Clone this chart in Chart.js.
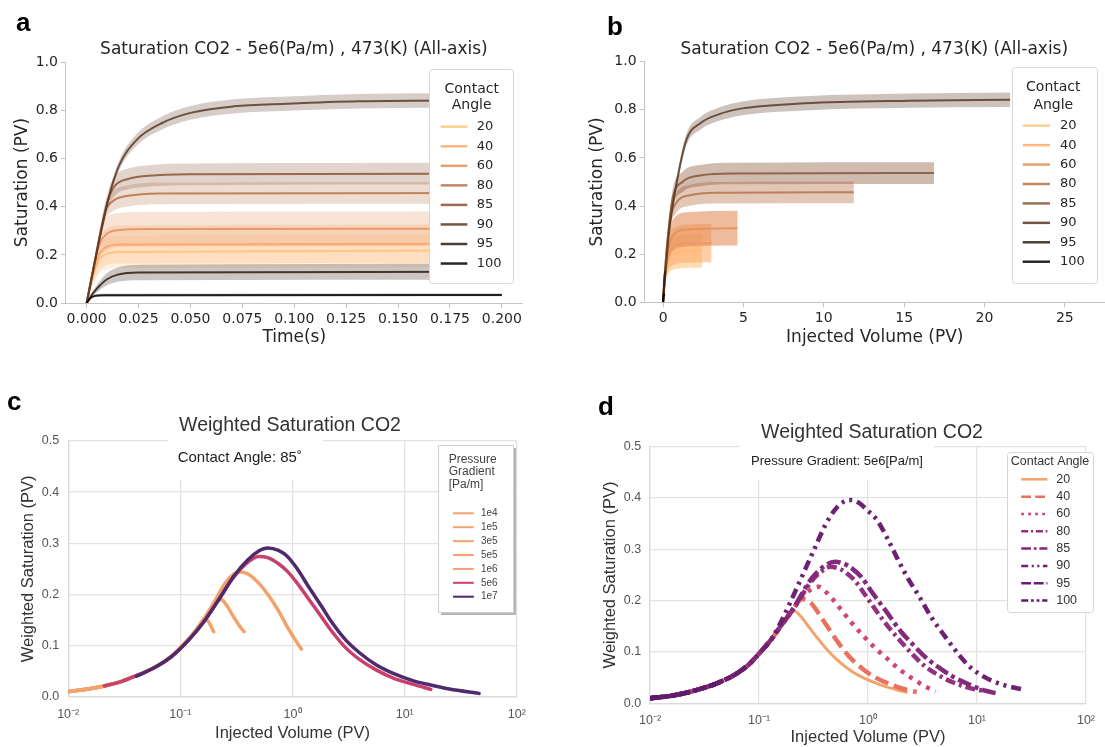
<!DOCTYPE html>
<html>
<head>
<meta charset="utf-8">
<script src="https://cdn.jsdelivr.net/npm/chart.js@4.4.1/dist/chart.umd.min.js"></script>
<style>
  html, body { margin: 0; padding: 0; background: #fff; }
  #wrap { position: relative; width: 1105px; height: 747px; overflow: hidden; }
  #wrap canvas { position: absolute; left: 0; top: 0; }
</style>
</head>
<body>
<div id="wrap">
  <canvas id="chart-a" width="1105" height="747"></canvas>
  <canvas id="chart-b" width="1105" height="747"></canvas>
  <canvas id="chart-c" width="1105" height="747"></canvas>
  <canvas id="chart-d" width="1105" height="747"></canvas>
</div>
<script>
// ---- shared categories / colours ----
const angles = ['20', '40', '60', '80', '85', '90', '95', '100'];
const copper = ['#ffc77f', '#ffab6d', '#e48e5b', '#b67248', '#895536', '#5b3924', '#2e1c12', '#000000'];
const satErr = [0.07, 0.08, 0.072, 0.045, 0.045, 0.03, 0.033, 0.006];
const bandAlphaA = [0.25, 0.25, 0.25, 0.25, 0.25, 0.25, 0.25, 0.25];
const bandAlphaB = [0.6, 0.6, 0.6, 0.4, 0.4, 0.3, 0.3, 0.3];

// ---- panel a : saturation vs time ----
const timeA = [
  [0, 0.003, 0.006, 0.01, 0.016, 0.1, 0.2],
  [0, 0.003, 0.006, 0.01, 0.016, 0.2],
  [0, 0.003, 0.006, 0.01, 0.016, 0.03, 0.2],
  [0, 0.0035, 0.009, 0.013, 0.02, 0.035, 0.2],
  [0, 0.0035, 0.0104, 0.014, 0.02, 0.03, 0.05, 0.2],
  [0, 0.0035, 0.0104, 0.0155, 0.0242, 0.0363, 0.05, 0.0708, 0.0967, 0.131, 0.2],
  [0, 0.003, 0.006, 0.01, 0.015, 0.025, 0.2],
  [0, 0.002, 0.004, 0.008, 0.2]
];
const satA = [
  [0, 0.11, 0.18, 0.205, 0.212, 0.215, 0.22],
  [0, 0.12, 0.2, 0.235, 0.243, 0.246],
  [0, 0.13, 0.24, 0.29, 0.303, 0.307, 0.308],
  [0, 0.153, 0.38, 0.425, 0.445, 0.455, 0.457],
  [0, 0.153, 0.43, 0.49, 0.515, 0.528, 0.534, 0.537],
  [0, 0.153, 0.43, 0.568, 0.678, 0.747, 0.789, 0.816, 0.827, 0.837, 0.841],
  [0, 0.04, 0.07, 0.1, 0.118, 0.127, 0.13],
  [0, 0.022, 0.03, 0.033, 0.034]
];
const timeTicks = [0, 0.025, 0.05, 0.075, 0.1, 0.125, 0.15, 0.175, 0.2];
const satTicks = [0, 0.2, 0.4, 0.6, 0.8, 1.0];

// ---- panel b : saturation vs injected volume ----
const pvB = [
  [0, 0.1, 0.3, 0.8, 1.3, 2.43],
  [0, 0.12, 0.35, 0.8, 1.5, 3.02],
  [0, 0.15, 0.4, 0.8, 1.5, 4.64],
  [0, 0.2, 0.5, 0.8, 1.67, 3.4, 11.87],
  [0, 0.2, 0.58, 1.24, 2.3, 4.45, 16.86],
  [0, 0.37, 0.8, 1.45, 2.32, 3.41, 4.93, 8.83, 15.3, 21.6],
  [0, 0.03, 0.06, 0.1, 0.14],
  [0, 0.02, 0.05, 0.1]
];
const satB = [
  [0, 0.1, 0.17, 0.205, 0.212, 0.215],
  [0, 0.11, 0.2, 0.235, 0.243, 0.246],
  [0, 0.13, 0.24, 0.29, 0.303, 0.308],
  [0, 0.2, 0.36, 0.412, 0.445, 0.455, 0.457],
  [0, 0.2, 0.426, 0.502, 0.527, 0.535, 0.537],
  [0, 0.29, 0.48, 0.675, 0.744, 0.78, 0.806, 0.827, 0.838, 0.842],
  [0, 0.04, 0.08, 0.115, 0.13],
  [0, 0.022, 0.03, 0.034]
];
const pvTicks = [0, 5, 10, 15, 20, 25];

// ---- panel c : weighted saturation, contact angle 85 ----
const gradients = ['1e4', '1e5', '3e5', '5e5', '1e6', '5e6', '1e7'];
const colorsC = ['#f4a26c', '#f4a26c', '#f4a26c', '#f4a26c', '#f4a26c', '#c8416d', '#4e2a6e'];
const pvC = [
  [0.01, 0.015, 0.021],
  [0.01, 0.015, 0.021, 0.03, 0.0405, 0.06, 0.085, 0.12],
  [0.01, 0.015, 0.021, 0.03, 0.0405, 0.06, 0.085, 0.12, 0.14, 0.165, 0.18, 0.198],
  [0.01, 0.015, 0.021, 0.03, 0.0405, 0.06, 0.085, 0.12, 0.16, 0.2, 0.23, 0.26, 0.3, 0.34, 0.37],
  [0.01, 0.015, 0.021, 0.03, 0.0405, 0.06, 0.085, 0.12, 0.16, 0.2, 0.25, 0.3, 0.343, 0.4, 0.5, 0.62, 0.75, 0.9, 1.05, 1.2],
  [0.021, 0.03, 0.0405, 0.06, 0.085, 0.12, 0.16, 0.22, 0.3, 0.4, 0.5, 0.6, 0.75, 0.9, 1.1, 1.4, 1.8, 2.2, 3, 4, 5.5, 8, 12, 17.1],
  [0.0405, 0.06, 0.085, 0.12, 0.16, 0.22, 0.3, 0.4, 0.5, 0.6, 0.75, 0.9, 1.1, 1.4, 1.8, 2.2, 3, 4, 5.5, 8, 12, 17, 25, 46]
];
const wsC = [
  [0.0098, 0.015, 0.021],
  [0.0098, 0.015, 0.021, 0.03, 0.041, 0.058, 0.081, 0.114],
  [0.0098, 0.015, 0.021, 0.03, 0.041, 0.058, 0.081, 0.114, 0.132, 0.152, 0.145, 0.127],
  [0.0098, 0.015, 0.021, 0.03, 0.041, 0.058, 0.081, 0.114, 0.15, 0.182, 0.19, 0.178, 0.155, 0.137, 0.127],
  [0.0098, 0.015, 0.021, 0.03, 0.041, 0.058, 0.081, 0.114, 0.15, 0.185, 0.222, 0.24, 0.244, 0.24, 0.222, 0.196, 0.168, 0.136, 0.112, 0.093],
  [0.021, 0.03, 0.041, 0.058, 0.08, 0.112, 0.145, 0.19, 0.234, 0.263, 0.274, 0.272, 0.26, 0.245, 0.222, 0.19, 0.157, 0.13, 0.095, 0.072, 0.053, 0.036, 0.024, 0.0143],
  [0.04, 0.058, 0.08, 0.112, 0.145, 0.19, 0.236, 0.268, 0.285, 0.291, 0.286, 0.274, 0.25, 0.214, 0.178, 0.148, 0.11, 0.085, 0.063, 0.045, 0.031, 0.023, 0.015, 0.0065]
];

// ---- panel d : weighted saturation, pressure gradient 5e6 ----
const colorsD = ['#f4a36c', '#e9725e', '#d04772', '#93307f', '#842a7c', '#6e2172', '#661e70', '#5c1a6c'];
const dashD = [[], [14, 6], [4, 6], [10, 4, 3, 4], [14, 4, 4, 4], [10, 5, 3, 5, 3, 5], [14, 4, 14, 4, 4, 4], [10, 4, 4, 4, 4, 4]];
const pvD = [
  [0.01, 0.015, 0.02, 0.03, 0.04, 0.06, 0.08, 0.1, 0.13, 0.16, 0.185, 0.21, 0.24, 0.286, 0.35, 0.432, 0.55, 0.7, 0.9, 1.3, 1.8, 2.3],
  [0.01, 0.015, 0.02, 0.03, 0.04, 0.06, 0.08, 0.1, 0.13, 0.16, 0.2, 0.25, 0.3, 0.378, 0.46, 0.569, 0.7, 0.918, 1.2, 1.7, 2.2, 2.8],
  [0.01, 0.015, 0.02, 0.03, 0.04, 0.06, 0.08, 0.1, 0.13, 0.16, 0.2, 0.25, 0.3, 0.352, 0.42, 0.5, 0.569, 0.7, 0.918, 1.2, 1.48, 2, 2.4, 3.2, 4.15],
  [0.01, 0.015, 0.02, 0.03, 0.04, 0.06, 0.08, 0.1, 0.13, 0.16, 0.2, 0.25, 0.3, 0.38, 0.45, 0.55, 0.65, 0.75, 0.95, 1.21, 1.55, 1.95, 2.6, 3.38, 4.5, 6, 8.5, 11.6],
  [0.01, 0.015, 0.02, 0.03, 0.04, 0.06, 0.08, 0.1, 0.13, 0.16, 0.2, 0.25, 0.3, 0.4, 0.496, 0.6, 0.72, 0.86, 1.1, 1.48, 2, 2.57, 3.4, 4.45, 6, 8, 11, 16],
  [0.01, 0.015, 0.02, 0.03, 0.04, 0.06, 0.08, 0.1, 0.13, 0.16, 0.218, 0.27, 0.329, 0.4, 0.5, 0.6, 0.7, 0.82, 1.0, 1.21, 1.5, 1.82, 2.3, 2.95, 3.8, 5.1, 6.8, 8.7, 12, 18, 26.4],
  [0.01, 0.015, 0.02, 0.03, 0.04, 0.06, 0.08],
  [0.01, 0.015, 0.02, 0.03, 0.04]
];
const wsD = [
  [0.0098, 0.014, 0.019, 0.029, 0.038, 0.056, 0.075, 0.097, 0.125, 0.152, 0.172, 0.18, 0.17, 0.149, 0.125, 0.102, 0.08, 0.063, 0.05, 0.036, 0.027, 0.021],
  [0.0098, 0.014, 0.019, 0.029, 0.038, 0.056, 0.075, 0.097, 0.125, 0.152, 0.18, 0.203, 0.195, 0.165, 0.138, 0.11, 0.087, 0.065, 0.049, 0.035, 0.027, 0.022],
  [0.0098, 0.014, 0.019, 0.029, 0.038, 0.056, 0.075, 0.097, 0.125, 0.152, 0.18, 0.208, 0.222, 0.227, 0.215, 0.197, 0.182, 0.158, 0.13, 0.105, 0.088, 0.064, 0.052, 0.035, 0.0226],
  [0.0098, 0.014, 0.019, 0.029, 0.038, 0.056, 0.075, 0.097, 0.125, 0.152, 0.18, 0.212, 0.237, 0.258, 0.266, 0.262, 0.252, 0.24, 0.21, 0.178, 0.148, 0.123, 0.094, 0.071, 0.054, 0.041, 0.03, 0.024],
  [0.0098, 0.014, 0.019, 0.029, 0.038, 0.056, 0.075, 0.097, 0.125, 0.152, 0.18, 0.215, 0.242, 0.268, 0.276, 0.272, 0.262, 0.247, 0.215, 0.178, 0.14, 0.115, 0.089, 0.07, 0.052, 0.039, 0.027, 0.018],
  [0.0098, 0.014, 0.019, 0.029, 0.038, 0.056, 0.075, 0.097, 0.125, 0.16, 0.221, 0.265, 0.305, 0.345, 0.378, 0.393, 0.396, 0.391, 0.375, 0.357, 0.322, 0.286, 0.245, 0.208, 0.168, 0.13, 0.095, 0.07, 0.05, 0.035, 0.027],
  [0.0098, 0.014, 0.019, 0.029, 0.038, 0.056, 0.075],
  [0.0098, 0.014, 0.019, 0.029, 0.038]
];
const decades = [0.01, 0.1, 1, 10, 100];
const decadeLabels = ['10\u207B\u00B2', '10\u207B\u00B9', '10\u2070', '10\u00B9', '10\u00B2'];
const wsTicks = [0, 0.1, 0.2, 0.3, 0.4, 0.5];

const DEJAVU = '"DejaVu Sans", sans-serif';
const ARIAL = '"Liberation Sans", Arial, sans-serif';
const spine = '#c4c4c4';

Chart.defaults.animation = false;
Chart.defaults.font.family = DEJAVU;

function rgba(hex, a) {
  const n = parseInt(hex.slice(1), 16);
  return `rgba(${n >> 16}, ${(n >> 8) & 255}, ${n & 255}, ${a})`;
}

function fixTicks(list) {
  return axis => { axis.ticks = list.map(v => ({ value: v })); };
}

// line + error band for the copper panels
function bandSets(xs, ys, alphas) {
  const sets = [];
  angles.forEach((lab, i) => {
    const pts = xs[i].map((x, j) => ({ x: x, y: ys[i][j] }));
    const last = ys[i][ys[i].length - 1];
    const hi = pts.map(p => ({ x: p.x, y: p.y + satErr[i] * p.y / last }));
    const lo = pts.map(p => ({ x: p.x, y: Math.max(0, p.y - satErr[i] * p.y / last) }));
    const ord = (angles.length - i) * 3;
    const common = { pointRadius: 0, cubicInterpolationMode: 'monotone' };
    sets.push({ ...common, data: hi, borderWidth: 0, borderColor: 'rgba(0,0,0,0)', fill: '+1', backgroundColor: rgba(copper[i], alphas[i]), order: ord + 1 });
    sets.push({ ...common, data: lo, borderWidth: 0, borderColor: 'rgba(0,0,0,0)', fill: false, order: ord + 2 });
    sets.push({ ...common, label: lab, isMain: true, data: pts, borderColor: rgba(copper[i], 0.85), borderWidth: 2, fill: false, order: ord });
  });
  return sets;
}

function drawText(ctx, t) {
  ctx.font = t.font;
  ctx.fillStyle = t.color || '#262626';
  ctx.textAlign = t.align || 'center';
  ctx.textBaseline = t.baseline || 'middle';
  ctx.fillText(t.text, t.x, t.y);
}

function drawLegend(chart, L) {
  const ctx = chart.ctx;
  const [bx, by, bw, bh] = L.box;
  ctx.save();
  if (L.shadow) {
    ctx.fillStyle = 'rgba(120,120,120,0.55)';
    ctx.fillRect(bx + 3, by + 3, bw, bh);
  }
  ctx.beginPath();
  ctx.roundRect(bx + 0.5, by + 0.5, bw, bh, L.radius || 0);
  ctx.fillStyle = '#fff';
  ctx.fill();
  ctx.strokeStyle = L.border;
  ctx.lineWidth = 1;
  ctx.stroke();
  L.titles.forEach(t => drawText(ctx, { text: t[0], x: t[1], y: t[2], font: L.titleFont, color: L.color, align: L.titleAlign }));
  const items = chart.data.datasets.filter(d => d.isMain);
  items.forEach((d, i) => {
    const y = L.row0 + i * L.gap;
    ctx.beginPath();
    ctx.setLineDash((d.borderDash || []).map(v => v * (L.dashScale || 1)));
    ctx.strokeStyle = d.borderColor;
    ctx.lineWidth = L.lw;
    ctx.moveTo(L.sx0, y);
    ctx.lineTo(L.sx1, y);
    ctx.stroke();
    ctx.setLineDash([]);
    drawText(ctx, { text: d.label, x: L.tx, y: y, font: L.font, color: L.color, align: 'left' });
  });
  ctx.restore();
}

function decor(cfg) {
  return {
    id: 'decor',
    beforeDatasetsDraw(chart) {
      const ctx = chart.ctx;
      ctx.save();
      (cfg.boxes || []).forEach(b => { ctx.fillStyle = '#fff'; ctx.fillRect(b[0], b[1], b[2], b[3]); });
      (cfg.texts || []).forEach(t => drawText(ctx, t));
      ctx.restore();
    },
    afterDatasetsDraw(chart) {
      if (cfg.legend) drawLegend(chart, cfg.legend);
    }
  };
}

function copperScales(xMin, xMax, xTicks, xFmt, xTitle, yWidth, xHeight) {
  const tickFont = { family: DEJAVU, size: 14 };
  const titleFont = { family: DEJAVU, size: 17 };
  return {
    x: {
      type: 'linear', min: xMin, max: xMax,
      afterBuildTicks: fixTicks(xTicks),
      afterFit: s => { s.height = xHeight; },
      ticks: { callback: xFmt, font: tickFont, color: '#262626', padding: 3, maxRotation: 0, autoSkip: false },
      grid: { display: true, drawOnChartArea: false, drawTicks: true, tickLength: 5, color: spine },
      border: { display: true, color: spine },
      title: { display: true, text: xTitle, font: titleFont, color: '#262626', padding: 0 }
    },
    y: {
      type: 'linear', min: 0, max: 1,
      afterBuildTicks: fixTicks(satTicks),
      afterFit: s => { s.width = yWidth; },
      ticks: { callback: v => v.toFixed(1), font: tickFont, color: '#262626', padding: 3 },
      grid: { display: true, drawOnChartArea: false, drawTicks: true, tickLength: 5, color: spine },
      border: { display: true, color: spine },
      title: { display: true, text: 'Saturation (PV)', font: titleFont, color: '#262626', padding: 0 }
    }
  };
}

function weightedScales(yWidth, xHeight) {
  const tickFont = { family: ARIAL, size: 12.5 };
  const titleFont = { family: ARIAL, size: 16.5 };
  const grid = { color: '#e3e3e3', lineWidth: 1.3, drawTicks: false };
  return {
    x: {
      type: 'logarithmic', min: 0.01, max: 100,
      afterBuildTicks: fixTicks(decades),
      afterFit: s => { s.height = xHeight; },
      ticks: { callback: (v, i) => decadeLabels[i], font: tickFont, color: '#555', padding: 10, maxRotation: 0, autoSkip: false },
      grid: grid,
      border: { display: true, color: '#dadada', width: 1.3 },
      title: { display: true, text: 'Injected Volume (PV)', font: titleFont, color: '#333', padding: 0 }
    },
    y: {
      type: 'linear', min: 0, max: 0.5,
      afterBuildTicks: fixTicks(wsTicks),
      afterFit: s => { s.width = yWidth; },
      ticks: { callback: v => v.toFixed(1), font: tickFont, color: '#555', padding: 9 },
      grid: grid,
      border: { display: true, color: '#dadada', width: 1.3 },
      title: { display: true, text: 'Weighted Saturation (PV)', font: titleFont, color: '#333', padding: 0 }
    }
  };
}

function baseOptions(padding, scales) {
  return {
    responsive: false,
    devicePixelRatio: 1,
    events: [],
    layout: { padding: padding },
    plugins: { legend: { display: false }, tooltip: { enabled: false } },
    scales: scales
  };
}

const letterFont = 'bold 26px "Liberation Sans", sans-serif';
const titleFontAB = '17px "DejaVu Sans"';
const titleAB = 'Saturation CO2 - 5e6(Pa/m) , 473(K) (All-axis)';

// ---- chart a ----
new Chart(document.getElementById('chart-a'), {
  type: 'line',
  data: { datasets: bandSets(timeA, satA, bandAlphaA) },
  options: baseOptions({ left: 11.9, top: 62, right: 582.4, bottom: 399.1 },
    copperScales(-0.01, 0.21, timeTicks, v => v.toFixed(3), 'Time(s)', 54, 44.8)),
  plugins: [decor({
    texts: [
      { text: 'a', x: 16, y: 31, font: letterFont, color: '#000', align: 'left', baseline: 'alphabetic' },
      { text: titleAB, x: 293.9, y: 49.3, font: titleFontAB }
    ],
    legend: {
      box: [429, 69, 84, 214], radius: 3, border: '#d6d6d6', color: '#262626',
      titles: [['Contact', 471.7, 89], ['Angle', 471.7, 105.7]], titleFont: '14px "DejaVu Sans"', titleAlign: 'center',
      row0: 126.7, gap: 19.55, sx0: 440.7, sx1: 467.3, tx: 476.7, font: '13px "DejaVu Sans"', lw: 2.5
    }
  })]
});

// ---- chart b ----
new Chart(document.getElementById('chart-b'), {
  type: 'line',
  data: { datasets: bandSets(pvB, satB, bandAlphaB) },
  options: baseOptions({ left: 587.1, top: 61.7, right: 0, bottom: 399.1 },
    copperScales(-1.15, 27.5, pvTicks, v => String(v), 'Injected Volume (PV)', 57.5, 45.6)),
  plugins: [decor({
    texts: [
      { text: 'b', x: 607, y: 35, font: letterFont, color: '#000', align: 'left', baseline: 'alphabetic' },
      { text: titleAB, x: 874.3, y: 49.3, font: titleFontAB }
    ],
    legend: {
      box: [1012, 67, 85, 216], radius: 3, border: '#d6d6d6', color: '#262626',
      titles: [['Contact', 1053.3, 87.3], ['Angle', 1053.3, 105]], titleFont: '14px "DejaVu Sans"', titleAlign: 'center',
      row0: 125.7, gap: 19.43, sx0: 1022.7, sx1: 1050, tx: 1060, font: '13px "DejaVu Sans"', lw: 2.5
    }
  })]
});

// ---- chart c ----
new Chart(document.getElementById('chart-c'), {
  type: 'line',
  data: {
    datasets: gradients.map((g, i) => ({
      label: g, isMain: true,
      data: pvC[i].map((x, j) => ({ x: x, y: wsC[i][j] })),
      borderColor: colorsC[i], borderWidth: 3.5, pointRadius: 0,
      cubicInterpolationMode: 'monotone', borderCapStyle: 'round', borderJoinStyle: 'round',
      fill: false, order: gradients.length - i
    }))
  },
  options: baseOptions({ left: 18.8, top: 441, right: 588.1, bottom: 3.8 }, weightedScales(49.4, 46.5)),
  plugins: [decor({
    boxes: [[168, 412, 155, 68]],
    texts: [
      { text: 'c', x: 7, y: 410, font: letterFont, color: '#000', align: 'left', baseline: 'alphabetic' },
      { text: 'Weighted Saturation CO2', x: 290, y: 426, font: '19.5px ' + ARIAL, color: '#333' },
      { text: 'Contact Angle: 85\u02DA', x: 177.7, y: 458.3, font: '15px ' + ARIAL, color: '#222', align: 'left' }
    ],
    legend: {
      box: [438, 445, 75, 167], shadow: true, border: '#cfcfcf', color: '#444',
      titles: [['Pressure', 448.7, 459.3], ['Gradient', 448.7, 472], ['[Pa/m]', 448.7, 485]],
      titleFont: '12px ' + ARIAL, titleAlign: 'left',
      row0: 513.3, gap: 13.9, sx0: 453, sx1: 473.8, tx: 481, font: '10px ' + ARIAL, lw: 2
    }
  })]
});

// ---- chart d ----
new Chart(document.getElementById('chart-d'), {
  type: 'line',
  data: {
    datasets: angles.map((a, i) => ({
      label: a, isMain: true,
      data: pvD[i].map((x, j) => ({ x: x, y: wsD[i][j] })),
      borderColor: colorsD[i], borderWidth: i === 0 ? 3 : 4.5, borderDash: dashD[i], pointRadius: 0,
      cubicInterpolationMode: 'monotone', borderCapStyle: 'butt', borderJoinStyle: 'round',
      fill: false, order: angles.length - i
    }))
  },
  options: baseOptions({ left: 600.8, top: 446.7, right: 6.9, bottom: 0 }, weightedScales(49.3, 43.7)),
  plugins: [decor({
    boxes: [[740, 415, 194, 65]],
    texts: [
      { text: 'd', x: 598, y: 415, font: letterFont, color: '#000', align: 'left', baseline: 'alphabetic' },
      { text: 'Weighted Saturation CO2', x: 872, y: 432.7, font: '19.5px ' + ARIAL, color: '#333' },
      { text: 'Pressure Gradient: 5e6[Pa/m]', x: 837, y: 461, font: '13px ' + ARIAL, color: '#222' }
    ],
    legend: {
      box: [1007, 452, 86, 160], radius: 3, border: '#d6d6d6', color: '#333',
      titles: [['Contact Angle', 1050, 461.7]], titleFont: '12.5px ' + ARIAL, titleAlign: 'center',
      row0: 479.3, gap: 17.33, sx0: 1021.2, sx1: 1047.4, tx: 1056.2, font: '12.5px ' + ARIAL, lw: 2.5, dashScale: 0.7
    }
  })]
});
</script>
</body>
</html>
